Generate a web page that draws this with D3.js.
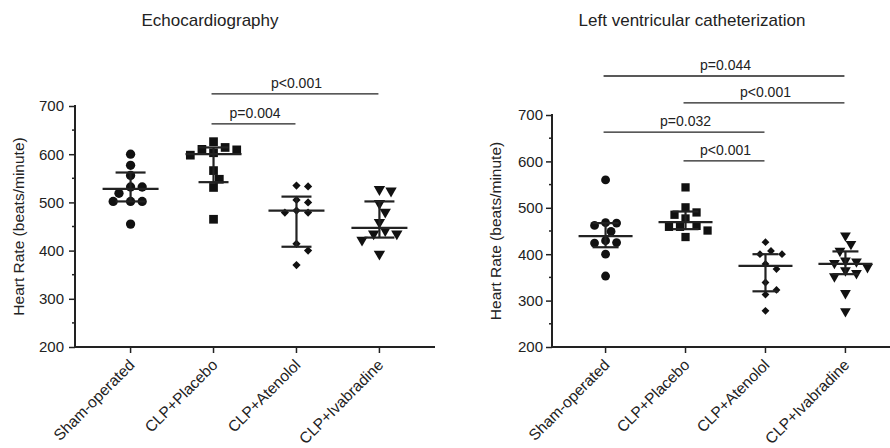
<!DOCTYPE html>
<html lang="en">
<head>
<meta charset="UTF-8">
<title>Heart Rate</title>
<script src="https://d3js.org/d3.v7.min.js"></script>
<style>
  body { margin: 0; background: #fff; }
  text { font-family: "Liberation Sans", Arial, sans-serif; fill: #222; }
</style>
</head>
<body>
<script>
// groups on the x axis
const groups = ["Sham-operated", "CLP+Placebo", "CLP+Atenolol", "CLP+Ivabradine"];
const yTicks = [200, 300, 400, 500, 600, 700];

// Echocardiography, beats/minute
const echoSham = [600, 577, 556, 532, 532, 519, 502, 502, 502, 455];
const echoPlacebo = [626, 614, 610, 609, 603, 598, 566, 548, 531, 465];
const echoAtenolol = [535, 533, 505, 500, 483, 479, 479, 414, 400, 370];
const echoIvabradine = [527, 524, 498, 480, 459, 442, 435, 435, 422, 393];
const echoMedian = [528, 600, 483, 447];
const echoLow = [502, 542, 408, 427];
const echoHigh = [562, 614, 512, 502];

// Left ventricular catheterization, beats/minute
const cathSham = [560, 468, 467, 462, 449, 429, 425, 424, 400, 353];
const cathPlacebo = [544, 501, 490, 485, 477, 461, 459, 459, 451, 437];
const cathAtenolol = [426, 407, 400, 400, 379, 368, 339, 323, 313, 278];
const cathIvabradine = [440, 422, 407, 386, 384, 381, 372, 365, 359, 352, 316, 277];
const cathMedian = [439, 469, 375, 379];
const cathLow = [415, 454, 320, 357];
const cathHigh = [467, 492, 400, 406];

// significance brackets: [from group, to group, level in beats/minute, label]
const echoBrackets = [[1, 2, 663, "p=0.004"], [1, 3, 725, "p<0.001"]];
const cathBrackets = [[0, 3, 784, "p=0.044"], [1, 3, 726, "p<0.001"],
                      [0, 2, 663, "p=0.032"], [1, 2, 601, "p<0.001"]];

const width = 890, height = 448;
const svg = d3.select("body").append("svg")
  .attr("width", width).attr("height", height);

// marker shapes per group
const shapes = [
  { type: d3.symbolCircle, size: 68, rot: 0 },
  { type: d3.symbolSquare, size: 76, rot: 0 },
  { type: d3.symbolSquare, size: 34, rot: 45 },
  { type: d3.symbolTriangle, size: 56, rot: 180 }
];

function drawPanel(p) {
  const g = svg.append("g");
  const x = d3.scalePoint().domain(groups).range([p.x0, p.x1]).padding(0.67);
  const y = d3.scaleLinear().domain([200, 700]).range([347, p.yTop]);

  // title
  g.append("text").attr("x", p.titleX).attr("y", 26)
    .attr("text-anchor", "middle").style("font-size", "17px").text(p.title);

  // y axis
  const yAxis = g.append("g").attr("transform", `translate(${p.x0},0)`)
    .call(d3.axisLeft(y).tickValues(yTicks).tickSize(6).tickPadding(p.tickPad));
  yAxis.append("g").selectAll("line")
    .data(d3.range(250, 700, 100)).join("line")
    .attr("x1", -3).attr("x2", 0).attr("y1", d => y(d)).attr("y2", d => y(d))
    .attr("stroke", "#222").attr("stroke-width", 1.5);
  yAxis.select(".domain").remove();
  yAxis.append("line").attr("x1", 0).attr("x2", 0)
    .attr("y1", y(700) - 1).attr("y2", y(200) + 1)
    .attr("stroke", "#222").attr("stroke-width", 2);
  yAxis.selectAll(".tick line").attr("stroke", "#222").attr("stroke-width", 1.5);
  yAxis.selectAll(".tick text").style("font-size", "15px")
    .style("font-family", '"Liberation Sans", Arial, sans-serif').attr("fill", "#222");

  g.append("text")
    .attr("transform", `translate(${p.x0 - 51},${(y(700) + y(200)) / 2})rotate(-90)`)
    .attr("text-anchor", "middle").style("font-size", "15.5px")
    .text("Heart Rate (beats/minute)");

  // x axis
  g.append("line").attr("x1", p.x0).attr("x2", p.x1)
    .attr("y1", y(200)).attr("y2", y(200))
    .attr("stroke", "#222").attr("stroke-width", 2);
  groups.forEach(c => {
    g.append("line").attr("x1", x(c)).attr("x2", x(c))
      .attr("y1", y(200)).attr("y2", y(200) + 6)
      .attr("stroke", "#222").attr("stroke-width", 1.5);
    g.append("text")
      .attr("transform", `translate(${x(c) + 5},${y(200) + 19}) rotate(-45)`)
      .attr("text-anchor", "end").style("font-size", "15.5px").text(c);
  });

  // points, dodged sideways so they do not overlap
  p.series.forEach((vals, i) => {
    const cx = x(groups[i]);
    const placed = [];
    const step = p.dot * 0.58;
    [...vals].sort((a, b) => b - a).forEach(v => {
      const py = y(v);
      let off = 0;
      for (let k = 0; k < 40; k++) {
        const cand = k === 0 ? 0 : (k % 2 ? 1 : -1) * Math.ceil(k / 2) * step;
        const hit = placed.some(q => (q[0] - cand) ** 2 + (q[1] - py) ** 2 < p.dot * p.dot);
        if (!hit) { off = cand; break; }
      }
      placed.push([off, py]);
      const s = shapes[i];
      g.append("path")
        .attr("d", d3.symbol().type(s.type).size(s.size * p.scale)())
        .attr("transform", `translate(${cx + off},${py}) rotate(${s.rot})`)
        .attr("fill", "#111");
    });

    // median and interquartile range
    const hw = p.medW / 2, cw = p.capW / 2;
    g.append("line").attr("x1", cx).attr("x2", cx)
      .attr("y1", y(p.high[i])).attr("y2", y(p.low[i]))
      .attr("stroke", "#222").attr("stroke-width", 2.2);
    [p.high[i], p.low[i]].forEach(v => {
      g.append("line").attr("x1", cx - cw).attr("x2", cx + cw)
        .attr("y1", y(v)).attr("y2", y(v))
        .attr("stroke", "#222").attr("stroke-width", 2.2);
    });
    g.append("line").attr("x1", cx - hw).attr("x2", cx + hw)
      .attr("y1", y(p.median[i])).attr("y2", y(p.median[i]))
      .attr("stroke", "#222").attr("stroke-width", 2.2);
  });

  // significance brackets
  p.brackets.forEach(b => {
    const xa = x(groups[b[0]]), xb = x(groups[b[1]]);
    g.append("line").attr("x1", xa - 2).attr("x2", xb - 1)
      .attr("y1", y(b[2])).attr("y2", y(b[2]))
      .attr("stroke", "#222").attr("stroke-width", 1.3);
    g.append("text").attr("x", (xa + xb) / 2).attr("y", y(b[2]) - 6)
      .attr("text-anchor", "middle").style("font-size", "14px").text(b[3]);
  });
}

drawPanel({
  title: "Echocardiography", titleX: 210, tickPad: 5,
  x0: 75, x1: 435, yTop: 106, dot: 10, scale: 1, medW: 56, capW: 30,
  series: [echoSham, echoPlacebo, echoAtenolol, echoIvabradine],
  median: echoMedian, low: echoLow, high: echoHigh, brackets: echoBrackets
});

drawPanel({
  title: "Left ventricular catheterization", titleX: 692, tickPad: 3,
  x0: 552, x1: 899, yTop: 115, dot: 9.5, scale: 0.9, medW: 54, capW: 26,
  series: [cathSham, cathPlacebo, cathAtenolol, cathIvabradine],
  median: cathMedian, low: cathLow, high: cathHigh, brackets: cathBrackets
});
</script>
</body>
</html>
